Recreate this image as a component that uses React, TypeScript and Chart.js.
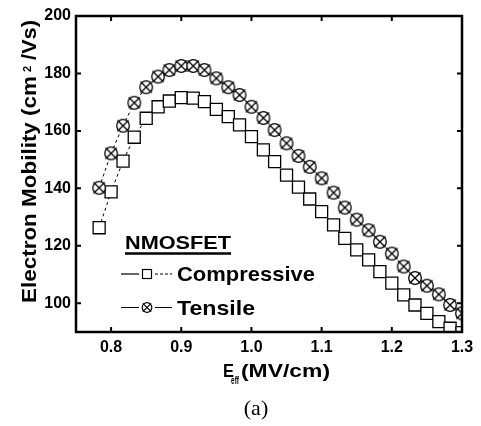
import React, { useEffect, useRef } from "react";
import { Chart, registerables } from "chart.js";

Chart.register(...registerables);

// ---- data ----
const fieldMVcm = [
  0.783, 0.8, 0.817, 0.833, 0.85, 0.867, 0.883, 0.9, 0.917, 0.933, 0.95, 0.967,
  0.983, 1.0, 1.017, 1.033, 1.05, 1.067, 1.083, 1.1, 1.117, 1.133, 1.15, 1.167,
  1.183, 1.2, 1.217, 1.233, 1.25, 1.267, 1.283, 1.3,
];
const compressive = [
  126.3, 138.8, 149.5, 157.8, 164.4, 168.4, 170.4, 171.6, 171.4, 170.2, 167.5, 165.0,
  162.1, 158.0, 153.4, 149.3, 144.6, 140.4, 136.3, 131.9, 127.3, 122.6, 118.6, 115.1,
  111.0, 107.0, 102.9, 99.4, 96.5, 93.6, 91.3, 89.8,
];
const tensile = [
  140.2, 152.2, 161.8, 169.8, 175.2, 178.9, 181.2, 182.6, 182.6, 181.2, 178.3, 175.2,
  172.5, 168.4, 164.5, 160.3, 155.7, 151.3, 147.5, 143.5, 138.5, 133.3, 129.1, 125.4,
  121.4, 117.3, 112.8, 108.8, 106.1, 103.1, 99.4, 96.5,
];
const xTicks = [0.8, 0.9, 1.0, 1.1, 1.2, 1.3];
const yTicks = [100, 120, 140, 160, 180, 200];
const xRange = [0.75, 1.3];
const yRange = [90, 200];
const seriesNames = ["Compressive", "Tensile"];
const legendTitle = "NMOSFET";
const xTitleParts = ["E", "eff", "(MV/cm)"];
const yTitleParts = ["Electron Mobility (cm", "2", "/Vs)"];
const caption = "(a)";

const SANS = "'Liberation Sans', Arial, Helvetica, sans-serif";

function makeCrossCircle(size: number, r: number, lw: number) {
  const c = document.createElement("canvas");
  c.width = size;
  c.height = size;
  const g = c.getContext("2d")!;
  const m = size / 2;
  g.fillStyle = "#fff";
  g.beginPath();
  g.arc(m, m, r, 0, Math.PI * 2);
  g.fill();
  g.strokeStyle = "#000";
  g.lineWidth = lw;
  g.stroke();
  const d = r * 0.88;
  g.beginPath();
  g.moveTo(m - d, m - d);
  g.lineTo(m + d, m + d);
  g.moveTo(m + d, m - d);
  g.lineTo(m - d, m + d);
  g.stroke();
  return c;
}

function drawFitted(
  ctx: CanvasRenderingContext2D,
  text: string,
  x: number,
  y: number,
  font: string,
  width?: number
) {
  ctx.font = font;
  const w = ctx.measureText(text).width;
  ctx.save();
  ctx.translate(x, y);
  if (width) ctx.scale(width / w, 1);
  ctx.fillText(text, 0, 0);
  ctx.restore();
}

const decorPlugin = {
  id: "decor",
  afterDraw(chart: any) {
    const ctx: CanvasRenderingContext2D = chart.ctx;
    const { left, right, top, bottom } = chart.chartArea;
    const xs = chart.scales.x;
    const ys = chart.scales.y;
    ctx.save();
    ctx.strokeStyle = "#000";
    ctx.fillStyle = "#000";
    // frame
    ctx.lineWidth = 2.5;
    ctx.strokeRect(left, top, right - left, bottom - top);
    // inward ticks on all sides
    ctx.lineWidth = 2;
    ctx.beginPath();
    for (const v of xTicks) {
      const px = xs.getPixelForValue(v);
      ctx.moveTo(px, bottom);
      ctx.lineTo(px, bottom - 5);
      ctx.moveTo(px, top);
      ctx.lineTo(px, top + 5);
    }
    for (const v of yTicks) {
      const py = ys.getPixelForValue(v);
      ctx.moveTo(left, py);
      ctx.lineTo(left + 5, py);
      ctx.moveTo(right, py);
      ctx.lineTo(right - 5, py);
    }
    ctx.stroke();

    // legend
    ctx.textBaseline = "alphabetic";
    ctx.textAlign = "left";
    drawFitted(ctx, legendTitle, 125, 248.5, `bold 19px ${SANS}`, 106);
    ctx.lineWidth = 2.5;
    ctx.beginPath();
    ctx.moveTo(125, 253.5);
    ctx.lineTo(231, 253.5);
    ctx.stroke();

    // compressive entry
    const yc = 274;
    ctx.lineWidth = 1.2;
    ctx.beginPath();
    ctx.moveTo(121, yc);
    ctx.lineTo(139, yc);
    ctx.stroke();
    ctx.setLineDash([3, 2]);
    ctx.beginPath();
    ctx.moveTo(155, yc);
    ctx.lineTo(172, yc);
    ctx.stroke();
    ctx.setLineDash([]);
    ctx.fillStyle = "#fff";
    ctx.fillRect(142.5, yc - 4.5, 9, 9);
    ctx.strokeRect(142.5, yc - 4.5, 9, 9);
    ctx.fillStyle = "#000";
    drawFitted(ctx, seriesNames[0], 177, 281, `bold 21px ${SANS}`, 138);

    // tensile entry
    const yt = 307.5;
    ctx.beginPath();
    ctx.moveTo(121, yt);
    ctx.lineTo(139, yt);
    ctx.moveTo(155, yt);
    ctx.lineTo(172, yt);
    ctx.stroke();
    ctx.beginPath();
    ctx.arc(147, yt, 4.8, 0, Math.PI * 2);
    ctx.fillStyle = "#fff";
    ctx.fill();
    ctx.stroke();
    const d = 4.2;
    ctx.beginPath();
    ctx.moveTo(147 - d, yt - d);
    ctx.lineTo(147 + d, yt + d);
    ctx.moveTo(147 + d, yt - d);
    ctx.lineTo(147 - d, yt + d);
    ctx.stroke();
    ctx.fillStyle = "#000";
    drawFitted(ctx, seriesNames[1], 177, 314.5, `bold 21px ${SANS}`, 78);

    // x title
    drawFitted(ctx, xTitleParts[0], 223, 377, `bold 19px ${SANS}`, 11);
    drawFitted(ctx, xTitleParts[1], 231, 383.5, `bold 10px ${SANS}`, 8);
    drawFitted(ctx, xTitleParts[2], 241, 377, `bold 19px ${SANS}`, 89);

    // y title (rotated)
    ctx.save();
    ctx.translate(36, 303);
    ctx.rotate(-Math.PI / 2);
    drawFitted(ctx, yTitleParts[0], 0, 0, `bold 21px ${SANS}`, 227);
    drawFitted(ctx, yTitleParts[1], 231, -5, `bold 11px ${SANS}`);
    drawFitted(ctx, yTitleParts[2], 243, 0, `bold 21px ${SANS}`, 40);
    ctx.restore();

    // caption
    ctx.textAlign = "center";
    ctx.font = `22px 'Liberation Serif', 'Times New Roman', serif`;
    ctx.fillText(caption, 256, 415);
    ctx.restore();
  },
};

export default function App() {
  const ref = useRef<HTMLCanvasElement>(null);
  useEffect(() => {
    const canvas = ref.current!;
    const marker = makeCrossCircle(16, 6.3, 1.3);
    const chart = new Chart(canvas, {
      type: "line",
      data: {
        datasets: [
          {
            label: seriesNames[1],
            data: fieldMVcm.map((x, i) => ({ x, y: tensile[i] })),
            borderColor: "#000",
            borderWidth: 1,
            borderDash: [3, 3],
            pointStyle: marker as any,
            pointRadius: 6,
            clip: 0,
          } as any,
          {
            label: seriesNames[0],
            data: fieldMVcm.map((x, i) => ({ x, y: compressive[i] })),
            borderColor: "#000",
            borderWidth: 1,
            borderDash: [3, 3],
            pointStyle: "rect",
            pointRadius: 8.5,
            pointBorderWidth: 1.3,
            pointBackgroundColor: "#fff",
            pointBorderColor: "#000",
            clip: 0,
          } as any,
        ],
      },
      options: {
        responsive: false,
        animation: false,
        events: [],
        devicePixelRatio: 1,
        layout: { padding: { left: 0, right: 19, top: 16, bottom: 0 } },
        plugins: { legend: { display: false }, tooltip: { enabled: false } },
        scales: {
          x: {
            type: "linear",
            min: xRange[0],
            max: xRange[1],
            grid: { display: false, drawTicks: false },
            border: { display: false },
            afterBuildTicks: (s: any) => {
              s.ticks = xTicks.map((v) => ({ value: v }));
            },
            afterFit: (s: any) => {
              s.height = 94;
            },
            ticks: {
              padding: 6,
              color: "#000",
              font: { family: SANS, size: 16, weight: "bold" },
              callback: (v: any) => Number(v).toFixed(1),
              maxRotation: 0,
            },
          },
          y: {
            type: "linear",
            min: yRange[0],
            max: yRange[1],
            grid: { display: false, drawTicks: false },
            border: { display: false },
            afterBuildTicks: (s: any) => {
              s.ticks = yTicks.map((v) => ({ value: v }));
            },
            afterFit: (s: any) => {
              s.width = 76;
            },
            ticks: {
              padding: 5,
              color: "#000",
              font: { family: SANS, size: 16, weight: "bold" },
            },
          },
        },
      },
      plugins: [decorPlugin],
    });
    return () => chart.destroy();
  }, []);
  return (
    <div style={{ position: "absolute", left: 0, top: 0, width: 481, height: 426, background: "#fff" }}>
      <canvas ref={ref} width={481} height={426} />
    </div>
  );
}
